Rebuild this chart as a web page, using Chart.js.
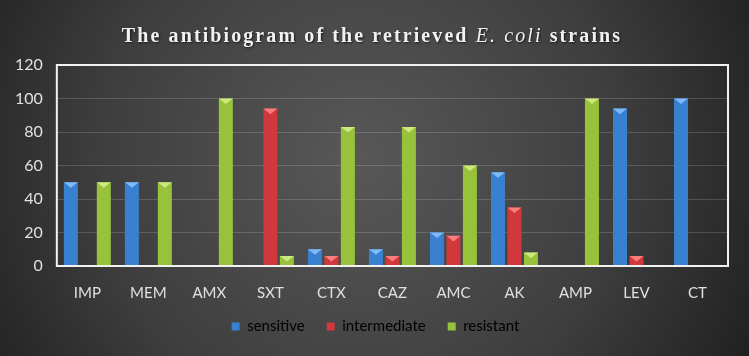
<!DOCTYPE html>
<html>
<head>
<meta charset="utf-8">
<script src="https://cdn.jsdelivr.net/npm/chart.js@4"></script>
<style>
  html, body { margin: 0; padding: 0; background: #2a2a2a; }
  #wrap { width: 749px; height: 356px; }
</style>
</head>
<body>
<div id="wrap"><canvas id="myChart" width="749" height="356"></canvas></div>
<script>
// antibiotics on the x axis
let drugs = ['IMP', 'MEM', 'AMX', 'SXT', 'CTX', 'CAZ', 'AMC', 'AK', 'AMP', 'LEV', 'CT']

// percentages
let sensitive    = [50, 50, 0, 0, 10, 10, 20, 56, 0, 94, 100]
let intermediate = [0, 0, 0, 94, 6, 6, 18, 35, 0, 6, 0]
let resistant    = [50, 50, 100, 6, 83, 83, 60, 8, 100, 0, 0]

let yTicks = [0, 20, 40, 60, 80, 100, 120]

// bar colours: base, dark edge, light cap
let colors = {
  blue:  ['#3a80d0', '#1f4f8c', '#8cc4ff'],
  red:   ['#d0383c', '#86191c', '#ff8a8a'],
  green: ['#98c23c', '#5c7a1c', '#d6f08a']
}

let shrinkX = 17 // let the plot run lower than Chart.js would place it
let legendShift = 11 // legend sits a bit right of centre in the original

let ctx = document.getElementById('myChart').getContext('2d')

// horizontal gradient across each bar so it looks like a cylinder
const barFill = (c) => (context) => {
  let el = context.element
  if (!el || !isFinite(el.x) || !el.width) return c[0]
  let g = context.chart.ctx.createLinearGradient(el.x - el.width / 2, 0, el.x + el.width / 2, 0)
  g.addColorStop(0, c[1])
  g.addColorStop(0.35, c[0])
  g.addColorStop(0.6, c[0])
  g.addColorStop(1, c[1])
  return g
}

// dark radial background
const background = {
  id: 'background',
  afterLayout(chart) {
    // give the x labels their room back so they are not clipped
    chart.scales.x.bottom += shrinkX
    chart.legend.left += legendShift
    chart.legend.right += legendShift
  },
  beforeDraw(chart) {
    let c = chart.ctx
    let w = chart.width, h = chart.height
    let g = c.createRadialGradient(w * 0.48, h * 0.45, 10, w * 0.48, h * 0.45, w * 0.62)
    g.addColorStop(0, '#575757')
    g.addColorStop(0.55, '#3e3e3e')
    g.addColorStop(1, '#1c1c1c')
    c.save()
    c.fillStyle = g
    c.fillRect(0, 0, w, h)
    c.restore()
  }
}

// title with italic species name, plus the white frame round the plot
const decor = {
  id: 'decor',
  afterDraw(chart) {
    let c = chart.ctx
    let a = chart.chartArea
    c.save()
    c.strokeStyle = '#f2f2f2'
    c.lineWidth = 2
    c.strokeRect(a.left, a.top, a.right - a.left, a.bottom - a.top)

    let parts = [
      ['bold 20px "Liberation Serif"', 'The antibiogram of the retrieved '],
      ['italic 20px "Liberation Serif"', 'E. coli'],
      ['bold 20px "Liberation Serif"', ' strains']
    ]
    c.letterSpacing = '2.1px'
    let total = 0
    parts.forEach(p => { c.font = p[0]; total += c.measureText(p[1]).width })
    let x = 372 - total / 2
    c.fillStyle = '#f2f2f2'
    c.textBaseline = 'middle'
    c.shadowColor = 'rgba(0,0,0,0.6)'
    c.shadowOffsetX = 1
    c.shadowOffsetY = 1
    c.shadowBlur = 2
    parts.forEach(p => {
      c.font = p[0]
      c.fillText(p[1], x, 37)
      x += c.measureText(p[1]).width
    })
    c.restore()
  }
}

// small light triangle on top of each bar (bevel cap)
const caps = {
  id: 'caps',
  afterDatasetsDraw(chart) {
    let c = chart.ctx
    let capColors = [colors.blue[2], colors.red[2], colors.green[2]]
    chart.data.datasets.forEach((ds, i) => {
      chart.getDatasetMeta(i).data.forEach((bar, j) => {
        if (!ds.data[j]) return
        let hw = bar.width / 2
        c.save()
        c.fillStyle = capColors[i]
        c.globalAlpha = 0.85
        c.beginPath()
        c.moveTo(bar.x - hw, bar.y)
        c.lineTo(bar.x + hw, bar.y)
        c.lineTo(bar.x, bar.y + hw * 0.8)
        c.closePath()
        c.fill()
        c.restore()
      })
    })
  }
}

let chartData = {
  labels: drugs,
  datasets: [
    { label: 'sensitive', data: sensitive, backgroundColor: barFill(colors.blue) },
    { label: 'intermediate', data: intermediate, backgroundColor: barFill(colors.red) },
    { label: 'resistant', data: resistant, backgroundColor: barFill(colors.green) }
  ]
}

let myChart = new Chart(ctx, {
  type: 'bar',
  data: chartData,
  plugins: [background, caps, decor],
  options: {
    responsive: false,
    animation: false,
    devicePixelRatio: 1,
    datasets: {
      bar: {
        categoryPercentage: 0.81,
        barPercentage: 0.85
      }
    },
    layout: {
      padding: { top: 65, left: 1, right: 21, bottom: 12 }
    },
    scales: {
      x: {
        grid: { display: false },
        border: { display: false },
        afterFit: (axis) => { axis.height -= shrinkX - 2 },
        ticks: {
          color: '#e0e0e0',
          font: { family: 'Lato', size: 15 },
          padding: 10
        }
      },
      y: {
        min: 0,
        max: 120,
        afterBuildTicks: (axis) => { axis.ticks = yTicks.map(v => ({ value: v })) },
        grid: { color: 'rgba(255,255,255,0.16)', lineWidth: 1, drawTicks: false },
        border: { display: false },
        ticks: {
          color: '#e0e0e0',
          font: { family: 'Lato', size: 16 },
          padding: 14
        }
      }
    },
    plugins: {
      title: { display: false },
      tooltip: { enabled: false },
      legend: {
        position: 'bottom',
        labels: {
          color: '#d8d8d8',
          font: { family: 'Lato', size: 15 },
          boxWidth: 8,
          boxHeight: 8,
          padding: 22,
          generateLabels: (chart) => chart.data.datasets.map((ds, i) => ({
            text: ds.label,
            fillStyle: [colors.blue[0], colors.red[0], colors.green[0]][i],
            strokeStyle: 'transparent',
            lineWidth: 0,
            datasetIndex: i
          }))
        }
      }
    }
  }
})
</script>
</body>
</html>
